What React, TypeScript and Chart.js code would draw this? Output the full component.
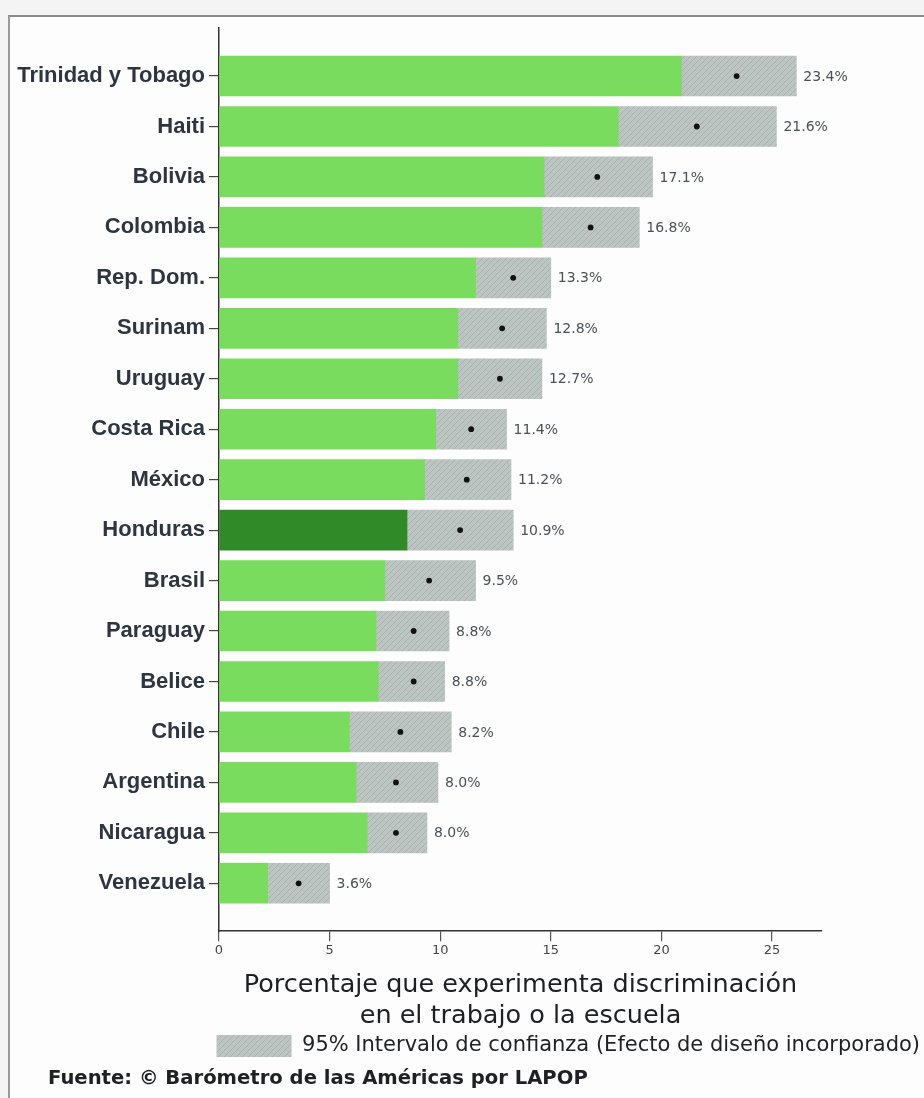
import { useEffect, useRef } from 'react';
import { Chart, registerables } from 'chart.js';

Chart.register(...registerables);

const categories = [
  'Trinidad y Tobago', 'Haiti', 'Bolivia', 'Colombia', 'Rep. Dom.', 'Surinam', 'Uruguay',
  'Costa Rica', 'México', 'Honduras', 'Brasil', 'Paraguay', 'Belice', 'Chile', 'Argentina',
  'Nicaragua', 'Venezuela',
];
const meanValues = [23.4, 21.6, 17.1, 16.8, 13.3, 12.8, 12.7, 11.4, 11.2, 10.9, 9.5, 8.8, 8.8, 8.2, 8.0, 8.0, 3.6];
const lowerCI = [20.9, 18.05, 14.7, 14.6, 11.6, 10.8, 10.8, 9.8, 9.3, 8.5, 7.5, 7.1, 7.2, 5.9, 6.2, 6.7, 2.2];
const upperCI = [26.1, 25.2, 19.6, 19.0, 15.0, 14.8, 14.6, 13.0, 13.2, 13.3, 11.6, 10.4, 10.2, 10.5, 9.9, 9.4, 5.0];
const xTicks = [0, 5, 10, 15, 20, 25];
const highlighted = 'Honduras';
const axisTitle = ['Porcentaje que experimenta discriminación', 'en el trabajo o la escuela'];
const legendText = '95% Intervalo de confianza (Efecto de diseño incorporado)';
const sourceText = 'Fuente: © Barómetro de las Américas por LAPOP';

const LABEL_FONT = '"Liberation Sans", Arial, Helvetica, sans-serif';
const TEXT_FONT = '"DejaVu Sans", Verdana, sans-serif';

function makeHatch(): CanvasPattern | string {
  const c = document.createElement('canvas');
  c.width = 6;
  c.height = 6;
  const g = c.getContext('2d');
  if (!g) return '#b5beba';
  g.fillStyle = '#bcc5c1';
  g.fillRect(0, 0, 6, 6);
  g.strokeStyle = '#a7b2ad';
  g.lineWidth = 1;
  g.beginPath();
  g.moveTo(0, 6); g.lineTo(6, 0);
  g.moveTo(-1, 1); g.lineTo(1, -1);
  g.moveTo(5, 7); g.lineTo(7, 5);
  g.stroke();
  return g.createPattern(c, 'repeat') || '#b5beba';
}

export default function App() {
  const ref = useRef<HTMLCanvasElement>(null);

  useEffect(() => {
    const canvas = ref.current;
    if (!canvas) return;
    const hatch = makeHatch();

    const valueLabels = {
      id: 'valueLabels',
      afterDatasetsDraw(chart: any) {
        const { ctx, scales } = chart;
        const x = scales.x;
        const y = scales.y;
        ctx.save();
        ctx.font = `14px ${TEXT_FONT}`;
        ctx.fillStyle = '#4b5057';
        ctx.textAlign = 'left';
        ctx.textBaseline = 'middle';
        meanValues.forEach((m, i) => {
          ctx.fillText(`${m.toFixed(1)}%`, x.getPixelForValue(upperCI[i]) + 7, y.getPixelForValue(i) + 1);
        });
        ctx.restore();
      },
    };

    const chart = new Chart(canvas, {
      type: 'bar',
      data: {
        datasets: [
          {
            type: 'scatter',
            label: 'Media',
            data: meanValues.map((m, i) => ({ x: m, y: i })),
            pointRadius: 2.9,
            pointBackgroundColor: '#111',
            pointBorderWidth: 0,
            order: 0,
          } as any,
          {
            type: 'bar',
            label: 'Porcentaje',
            data: lowerCI.map((v, i) => ({ y: i, x: [0, v] })),
            backgroundColor: categories.map((c) => (c === highlighted ? '#2f8a27' : '#7adc5e')),
            grouped: false,
            barThickness: 40,
            order: 1,
          } as any,
          {
            type: 'bar',
            label: legendText,
            data: lowerCI.map((v, i) => ({ y: i, x: [v, upperCI[i]] })),
            backgroundColor: hatch,
            grouped: false,
            barThickness: 40,
            order: 1,
          } as any,
        ],
      },
      options: {
        responsive: false,
        animation: false,
        indexAxis: 'y',
        events: [],
        layout: { padding: { left: 0, top: 6, right: 0, bottom: 31 } },
        scales: {
          x: {
            type: 'linear',
            offset: false,
            min: 0,
            max: 27.26,
            afterBuildTicks: (s: any) => { s.ticks = xTicks.map((v) => ({ value: v })); },
            ticks: { font: { family: TEXT_FONT, size: 13 }, color: '#444', padding: 2 },
            grid: { drawOnChartArea: false, tickLength: 10, color: '#555', lineWidth: 1.2, offset: false },
            border: { color: '#333', width: 1.5 },
            title: {
              display: true,
              text: axisTitle,
              font: { family: TEXT_FONT, size: 25.5, lineHeight: 1.18 },
              color: '#1d1f22',
              padding: { top: 10, bottom: 0 },
            },
          },
          y: {
            type: 'linear',
            offset: false,
            reverse: true,
            min: -0.96,
            max: 16.95,
            afterBuildTicks: (s: any) => { s.ticks = categories.map((_, i) => ({ value: i })); },
            afterFit: (s: any) => { s.width = 209; },
            ticks: {
              autoSkip: false,
              callback: (_v: any, i: number) => categories[i],
              font: { family: LABEL_FONT, size: 22, weight: 'bold', lineHeight: 0.6 },
              color: '#2e3540',
              padding: 4,
            },
            grid: { drawOnChartArea: false, tickLength: 10, color: '#444', lineWidth: 1.2, offset: false },
            border: { display: true, color: '#333', width: 1.5 },
          },
          y2: {
            type: 'linear',
            axis: 'y',
            position: 'right',
            display: true,
            ticks: { display: false },
            grid: { display: false },
            border: { display: false },
            afterFit: (s: any) => { s.width = 102; },
          } as any,
        },
        plugins: {
          tooltip: { enabled: false },
          legend: {
            display: true,
            position: 'bottom',
            align: 'end',
            labels: {
              filter: (item: any) => item.datasetIndex === 2,
              boxWidth: 75,
              boxHeight: 22,
              font: { family: TEXT_FONT, size: 21 },
              color: '#1e2024',
              padding: 4,
            },
          } as any,
          title: { display: false },
        },
      } as any,
      plugins: [valueLabels],
    });

    return () => chart.destroy();
  }, []);

  return (
    <div style={{ position: 'absolute', left: 0, top: 0, width: 924, height: 1098, background: '#f3f4f3', overflow: 'hidden' }}>
      <div
        style={{
          position: 'absolute', left: 8, top: 15, width: 916, height: 1083,
          borderTop: '2px solid #8c8c8c', borderLeft: '2px solid #9a9a9a', background: '#fcfdfc', boxSizing: 'border-box',
        }}
      />
      <canvas ref={ref} width={914} height={1081} style={{ position: 'absolute', left: 10, top: 17, width: 914, height: 1081 }} />
      <div
        style={{
          position: 'absolute', left: 48, top: 1066, lineHeight: '24px', whiteSpace: 'nowrap',
          fontFamily: TEXT_FONT, fontWeight: 'bold', fontSize: 19.6, color: '#1e2024',
        }}
      >
        {sourceText}
      </div>
    </div>
  );
}
